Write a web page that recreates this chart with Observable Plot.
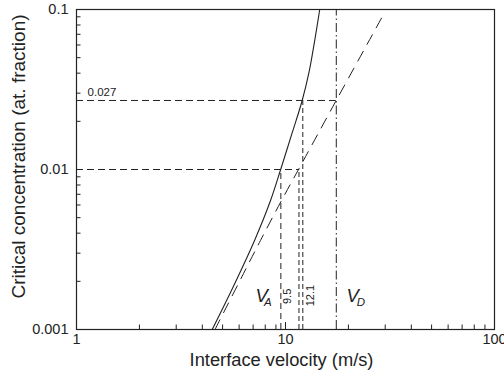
<!DOCTYPE html>
<html>
<head>
<meta charset="utf-8">
<script src="https://cdn.jsdelivr.net/npm/d3@7"></script>
<script src="https://cdn.jsdelivr.net/npm/@observablehq/plot@0.6"></script>
<style>
  html, body { margin: 0; padding: 0; background: #fff; overflow: hidden; }
  #chart svg { display: block; }
</style>
</head>
<body>
<div id="chart"></div>
<script>
// ---- data ----
const solidX = [4.46, 5.66, 7.11, 8.48, 9.48, 10.74, 11.99, 12.96, 13.84, 14.58];
const solidY = [0.001, 0.001884, 0.0036, 0.0064, 0.01, 0.0168, 0.0267, 0.0406, 0.0656, 0.1];
const dashX = [4.60, 7.59, 9.57, 11.54, 17.4, 29.3];
const dashY = [0.001, 0.0036, 0.0064, 0.01, 0.0267, 0.092];

const xTickLabels = [1, 10, 100];
const yTickLabels = [0.001, 0.01, 0.1];
const xMinor = [2,3,4,5,6,7,8,9,20,30,40,50,60,70,80,90];
const yMinor = [0.002,0.003,0.004,0.005,0.006,0.007,0.008,0.009,0.02,0.03,0.04,0.05,0.06,0.07,0.08,0.09];

const vD = 17.5;
const hGuideY = [0.027, 0.01];
const hGuideEnd = [17.5, 11.7];
const vGuideLongX = [9.5];
const vGuideLongTop = [0.01];
const vGuideShortX = [11.6, 12.1];
const vGuideShortTop = [0.01, 0.027];

const rotLabels = ["9.5", "12.1"];
const rotLabelX = [10.2, 13.18];
const rotLabelY = [0.00161, 0.00163];

const vMain = ["V", "V"];
const vMainX = [7.19, 19.6];
const vMainY = [0.00148, 0.00148];
const vSub = ["A", "D"];
const vSubX = [7.89, 21.9];
const vSubY = [0.00141, 0.00141];

const valueLabel = ["0.027"];
const valueLabelX = [1.13];
const valueLabelY = [0.0286];

const xTitle = "Interface velocity (m/s)";
const yTitle = "Critical concentration (at. fraction)";

// ---- build ----
const solid = solidX.map((x, i) => ({x, y: solidY[i]}));
const dashed = dashX.map((x, i) => ({x, y: dashY[i]}));
const hGuides = hGuideY.map((y, i) => ({y, x1: 1, x2: hGuideEnd[i]}));
const vLong = vGuideLongX.map((x, i) => ({x, y1: 0.001, y2: vGuideLongTop[i]}));
const vShort = vGuideShortX.map((x, i) => ({x, y1: 0.001, y2: vGuideShortTop[i]}));
const rot = rotLabels.map((t, i) => ({t, x: rotLabelX[i], y: rotLabelY[i]}));
const vm = vMain.map((t, i) => ({t, x: vMainX[i], y: vMainY[i]}));
const vs = vSub.map((t, i) => ({t, x: vSubX[i], y: vSubY[i]}));
const vl = valueLabel.map((t, i) => ({t, x: valueLabelX[i], y: valueLabelY[i]}));

const W = 504, H = 380, ML = 76, MR = 10, MT = 9, MB = 51;
const innerW = W - ML - MR, innerH = H - MT - MB;
const ink = "#222";

const chart = Plot.plot({
  width: W, height: H,
  marginLeft: ML, marginRight: MR, marginTop: MT, marginBottom: MB,
  style: {fontFamily: "'Liberation Sans', Arial, Helvetica, sans-serif", color: ink, background: "#fff"},
  x: {type: "log", domain: [1, 100]},
  y: {type: "log", domain: [0.001, 0.1]},
  marks: [
    // guides
    Plot.ruleY(hGuides, {y: "y", x1: "x1", x2: "x2", stroke: ink, strokeWidth: 1, strokeDasharray: "7,4"}),
    Plot.ruleX(vLong, {x: "x", y1: "y1", y2: "y2", stroke: ink, strokeWidth: 1, strokeDasharray: "6,4"}),
    Plot.ruleX(vShort, {x: "x", y1: "y1", y2: "y2", stroke: ink, strokeWidth: 1, strokeDasharray: "5,3"}),
    Plot.ruleX([vD], {x: d => d, y1: 0.001, y2: 0.1, stroke: ink, strokeWidth: 1, strokeDasharray: "9,3,1.5,3"}),
    // curves
    Plot.line(dashed, {x: "x", y: "y", curve: "catmull-rom", stroke: ink, strokeWidth: 1, strokeDasharray: "11,8"}),
    Plot.line(solid, {x: "x", y: "y", curve: "catmull-rom", stroke: ink, strokeWidth: 1.1}),
    // ticks (inward)
    Plot.ruleX(xMinor, {x: d => d, insetTop: innerH - 4.5, stroke: ink}),
    Plot.ruleX(xTickLabels, {x: d => d, insetTop: innerH - 7, stroke: ink}),
    Plot.ruleY(yMinor, {y: d => d, insetRight: innerW - 4.5, stroke: ink}),
    Plot.ruleY(yTickLabels, {y: d => d, insetRight: innerW - 6.5, stroke: ink}),
    // axes labels
    Plot.axisX({ticks: xTickLabels, tickSize: 0, tickPadding: 4, tickFormat: d => String(d), fontSize: 14.5, label: null}),
    Plot.axisY({ticks: yTickLabels, tickSize: 0, tickPadding: 8, tickFormat: d => String(d), fontSize: 14.5, label: null}),
    Plot.text([xTitle], {frameAnchor: "bottom", text: d => d, textAnchor: "middle", dy: 36, dx: -4, lineAnchor: "bottom", fontSize: 18.3, fill: ink}),
    Plot.text([yTitle], {frameAnchor: "left", text: d => d, textAnchor: "middle", dx: -52, dy: -13, rotate: -90, lineAnchor: "bottom", fontSize: 19, fill: ink}),
    // annotations
    Plot.text(vl, {x: "x", y: "y", text: "t", textAnchor: "start", lineAnchor: "bottom", fontSize: 11.5, fill: ink}),
    Plot.text(rot, {x: "x", y: "y", text: "t", rotate: -90, textAnchor: "middle", lineAnchor: "middle", fontSize: 11, fill: ink}),
    Plot.text(vm, {x: "x", y: "y", text: "t", textAnchor: "start", lineAnchor: "bottom", fontSize: 18.5, fontStyle: "italic", fill: ink}),
    Plot.text(vs, {x: "x", y: "y", text: "t", textAnchor: "start", lineAnchor: "bottom", fontSize: 11.5, fontStyle: "italic", fill: ink}),
    Plot.frame({stroke: ink, strokeWidth: 1.2})
  ]
});
document.getElementById("chart").appendChild(chart);
</script>
</body>
</html>
